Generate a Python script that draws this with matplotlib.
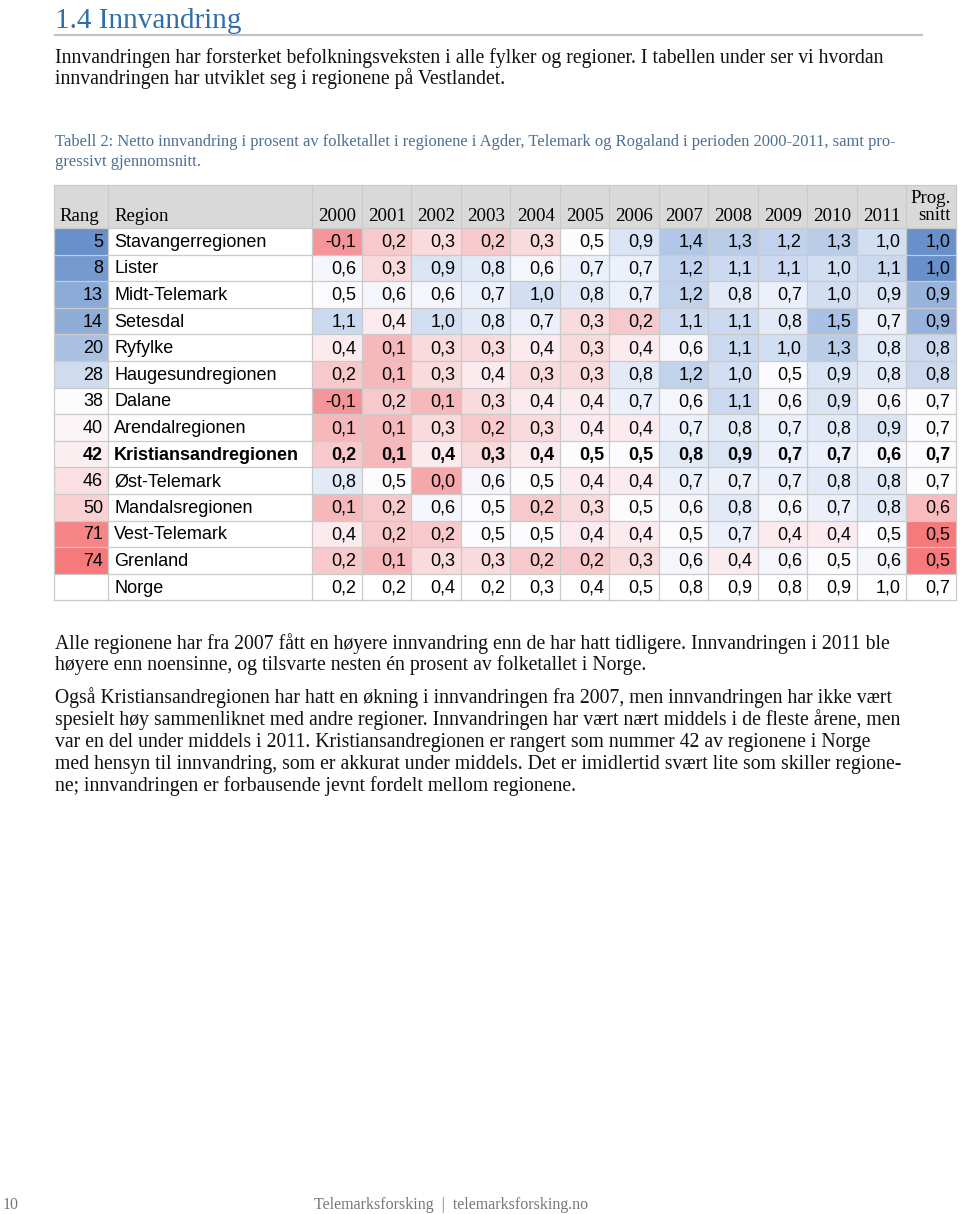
"""
Tabell 2: Netto innvandring i prosent av folketallet - regionene i Agder, Telemark og Rogaland
"""

import numpy as np
import matplotlib.pyplot as plt
from matplotlib.patches import Rectangle

# ---- data -------------------------------------------------------------
years = ["2000", "2001", "2002", "2003", "2004", "2005",
         "2006", "2007", "2008", "2009", "2010", "2011"]

ranks = [5, 8, 13, 14, 20, 28, 38, 40, 42, 46, 50, 71, 74, None]

regions = ["Stavangerregionen", "Lister", "Midt-Telemark", "Setesdal", "Ryfylke",
           "Haugesundregionen", "Dalane", "Arendalregionen", "Kristiansandregionen",
           "Øst-Telemark", "Mandalsregionen", "Vest-Telemark", "Grenland", "Norge"]

netto = [
    [-0.1, 0.2, 0.3, 0.2, 0.3, 0.5, 0.9, 1.4, 1.3, 1.2, 1.3, 1.0],
    [0.6, 0.3, 0.9, 0.8, 0.6, 0.7, 0.7, 1.2, 1.1, 1.1, 1.0, 1.1],
    [0.5, 0.6, 0.6, 0.7, 1.0, 0.8, 0.7, 1.2, 0.8, 0.7, 1.0, 0.9],
    [1.1, 0.4, 1.0, 0.8, 0.7, 0.3, 0.2, 1.1, 1.1, 0.8, 1.5, 0.7],
    [0.4, 0.1, 0.3, 0.3, 0.4, 0.3, 0.4, 0.6, 1.1, 1.0, 1.3, 0.8],
    [0.2, 0.1, 0.3, 0.4, 0.3, 0.3, 0.8, 1.2, 1.0, 0.5, 0.9, 0.8],
    [-0.1, 0.2, 0.1, 0.3, 0.4, 0.4, 0.7, 0.6, 1.1, 0.6, 0.9, 0.6],
    [0.1, 0.1, 0.3, 0.2, 0.3, 0.4, 0.4, 0.7, 0.8, 0.7, 0.8, 0.9],
    [0.2, 0.1, 0.4, 0.3, 0.4, 0.5, 0.5, 0.8, 0.9, 0.7, 0.7, 0.6],
    [0.8, 0.5, 0.0, 0.6, 0.5, 0.4, 0.4, 0.7, 0.7, 0.7, 0.8, 0.8],
    [0.1, 0.2, 0.6, 0.5, 0.2, 0.3, 0.5, 0.6, 0.8, 0.6, 0.7, 0.8],
    [0.4, 0.2, 0.2, 0.5, 0.5, 0.4, 0.4, 0.5, 0.7, 0.4, 0.4, 0.5],
    [0.2, 0.1, 0.3, 0.3, 0.2, 0.2, 0.3, 0.6, 0.4, 0.6, 0.5, 0.6],
    [0.2, 0.2, 0.4, 0.2, 0.3, 0.4, 0.5, 0.8, 0.9, 0.8, 0.9, 1.0],
]

prog_snitt = [1.0, 1.0, 0.9, 0.9, 0.8, 0.8, 0.7, 0.7, 0.7, 0.7, 0.6, 0.5, 0.5, 0.7]

bold_region = "Kristiansandregionen"

# ---- colours ------------------------------------------------------------
WHITE = np.array([252, 252, 255]) / 255
RED = np.array([246, 122, 124]) / 255
BLUE = np.array([104, 144, 202]) / 255
RED_LIGHT = np.array([244, 150, 153]) / 255
BLUE_LIGHT = np.array([168, 193, 228]) / 255
TITLE_BLUE = "#2f6fa8"
CAPTION_BLUE = "#4d6f96"
GRID = "#cacaca"
HEADER_GREY = "#d9d9d9"
YEAR_MID = 0.5   # white point of the year colour scale


def scale3(v, lo, mid, hi, low_col, high_col):
    """3-colour scale like Excel conditional formatting"""
    if v <= mid:
        t = 0.0 if mid == lo else (mid - v) / (mid - lo)
        return WHITE + t * (low_col - WHITE)
    t = 0.0 if hi == mid else (v - mid) / (hi - mid)
    return WHITE + t * (high_col - WHITE)


# ---- figure -------------------------------------------------------------
fig = plt.figure(figsize=(9.6, 12.14), dpi=100)
ax = fig.add_axes([0, 0, 1, 1])
ax.set_xlim(0, 960)
ax.set_ylim(1214, 0)
ax.axis("off")

serif = "Liberation Serif"
sans = "Liberation Sans"
body_fs = 14.2

# title and intro
ax.text(55, 28, "1.4 Innvandring", fontsize=21, family=serif, color=TITLE_BLUE)
ax.plot([55, 922], [35, 35], color="#c4c4c4", lw=1.6)
ax.text(55, 63, "Innvandringen har forsterket befolkningsveksten i alle fylker og regioner. "
        "I tabellen under ser vi hvordan", fontsize=body_fs, family=serif, color="#111111")
ax.text(55, 84, "innvandringen har utviklet seg i regionene på Vestlandet.",
        fontsize=body_fs, family=serif, color="#111111")

ax.text(55, 146, "Tabell 2: Netto innvandring i prosent av folketallet i regionene i Agder, "
        "Telemark og Rogaland i perioden 2000-2011, samt pro-", fontsize=11.9,
        family=serif, color=CAPTION_BLUE)
ax.text(55, 166, "gressivt gjennomsnitt.", fontsize=11.9, family=serif, color=CAPTION_BLUE)

# ---- table geometry -----------------------------------------------------
x_rang, x_region, x_year0 = 54, 108, 312
col_w = 49.5
x_edges = [x_rang, x_region] + [x_year0 + col_w * k for k in range(len(years) + 2)]
y_head_top, y_head_bot = 185, 228
row_h = 26.6
n_rows = len(regions)
y_rows = [y_head_bot + row_h * i for i in range(n_rows + 1)]

# scales (Norge row excluded)
reg_vals = np.array(netto[:-1])
y_lo, y_hi = reg_vals.min(), reg_vals.max()
rk = np.array(ranks[:-1], dtype=float)
r_lo, r_mid, r_hi = rk.min(), np.percentile(rk, 50), rk.max()
ps = np.array(prog_snitt[:-1])
p_lo, p_mid, p_hi = ps.min(), np.percentile(ps, 50), ps.max()

# header
ax.add_patch(Rectangle((x_edges[0], y_head_top), x_edges[-1] - x_edges[0],
                       y_head_bot - y_head_top, facecolor=HEADER_GREY, edgecolor="none"))
hfs = 13.6
ax.text(x_rang + 5, y_head_bot - 7, "Rang", fontsize=hfs, family=serif, va="baseline")
ax.text(x_region + 6, y_head_bot - 7, "Region", fontsize=hfs, family=serif, va="baseline")
for j, yr in enumerate(years):
    ax.text(x_edges[j + 3] - 5, y_head_bot - 7, yr, fontsize=hfs, family=serif,
            ha="right", va="baseline")
ax.text(x_edges[-1] - 5, y_head_bot - 25, "Prog.", fontsize=hfs, family=serif,
        ha="right", va="baseline")
ax.text(x_edges[-1] - 5, y_head_bot - 8, "snitt", fontsize=hfs, family=serif,
        ha="right", va="baseline")


def fmt(v):
    return f"{v:.1f}".replace(".", ",")


cfs = 13
for i, name in enumerate(regions):
    top = y_rows[i]
    ymid = top + row_h / 2 + 1
    is_norge = ranks[i] is None
    weight = "bold" if name == bold_region else "normal"

    # rang
    if not is_norge:
        c = scale3(-ranks[i], -r_hi, -r_mid, -r_lo, RED, BLUE)
        ax.add_patch(Rectangle((x_edges[0], top), x_edges[1] - x_edges[0], row_h,
                               facecolor=c, edgecolor="none"))
        ax.text(x_edges[1] - 5, ymid, str(ranks[i]), fontsize=cfs, family=sans,
                ha="right", va="center", weight=weight)
    ax.text(x_region + 6, ymid, name, fontsize=cfs, family=sans, ha="left",
            va="center", weight=weight)

    # years
    for j, v in enumerate(netto[i]):
        x0 = x_edges[j + 2]
        if not is_norge:
            c = scale3(v, y_lo, YEAR_MID, y_hi, RED_LIGHT, BLUE_LIGHT)
            ax.add_patch(Rectangle((x0, top), col_w, row_h, facecolor=c, edgecolor="none"))
        ax.text(x0 + col_w - 5, ymid, fmt(v), fontsize=cfs, family=sans,
                ha="right", va="center", weight=weight)

    # prog. snitt
    x0 = x_edges[-2]
    if not is_norge:
        c = scale3(prog_snitt[i], p_lo, p_mid, p_hi, RED, BLUE)
        ax.add_patch(Rectangle((x0, top), col_w, row_h, facecolor=c, edgecolor="none"))
    ax.text(x0 + col_w - 5, ymid, fmt(prog_snitt[i]), fontsize=cfs, family=sans,
            ha="right", va="center", weight=weight)

# grid lines
for x in x_edges:
    ax.plot([x, x], [y_head_top, y_rows[-1]], color=GRID, lw=0.9)
for y in [y_head_top] + y_rows:
    ax.plot([x_edges[0], x_edges[-1]], [y, y], color=GRID, lw=0.9)

# ---- text below table ---------------------------------------------------
body = [
    (649, "Alle regionene har fra 2007 fått en høyere innvandring enn de har hatt tidligere. "
          "Innvandringen i 2011 ble"),
    (670, "høyere enn noensinne, og tilsvarte nesten én prosent av folketallet i Norge."),
    (703, "Også Kristiansandregionen har hatt en økning i innvandringen fra 2007, men "
          "innvandringen har ikke vært"),
    (725, "spesielt høy sammenliknet med andre regioner. Innvandringen har vært nært middels "
          "i de fleste årene, men"),
    (747, "var en del under middels i 2011. Kristiansandregionen er rangert som nummer 42 av "
          "regionene i Norge"),
    (769, "med hensyn til innvandring, som er akkurat under middels. Det er imidlertid svært "
          "lite som skiller regione-"),
    (791, "ne; innvandringen er forbausende jevnt fordelt mellom regionene."),
]
for y, line in body:
    ax.text(55, y, line, fontsize=body_fs, family=serif, color="#111111")

# footer
ax.text(3, 1209, "10", fontsize=11.5, family=serif, color="#777777")
ax.text(451, 1209, "Telemarksforsking  |  telemarksforsking.no", fontsize=11.5,
        family=serif, color="#777777", ha="center")

fig.savefig("out.png", dpi=100)
